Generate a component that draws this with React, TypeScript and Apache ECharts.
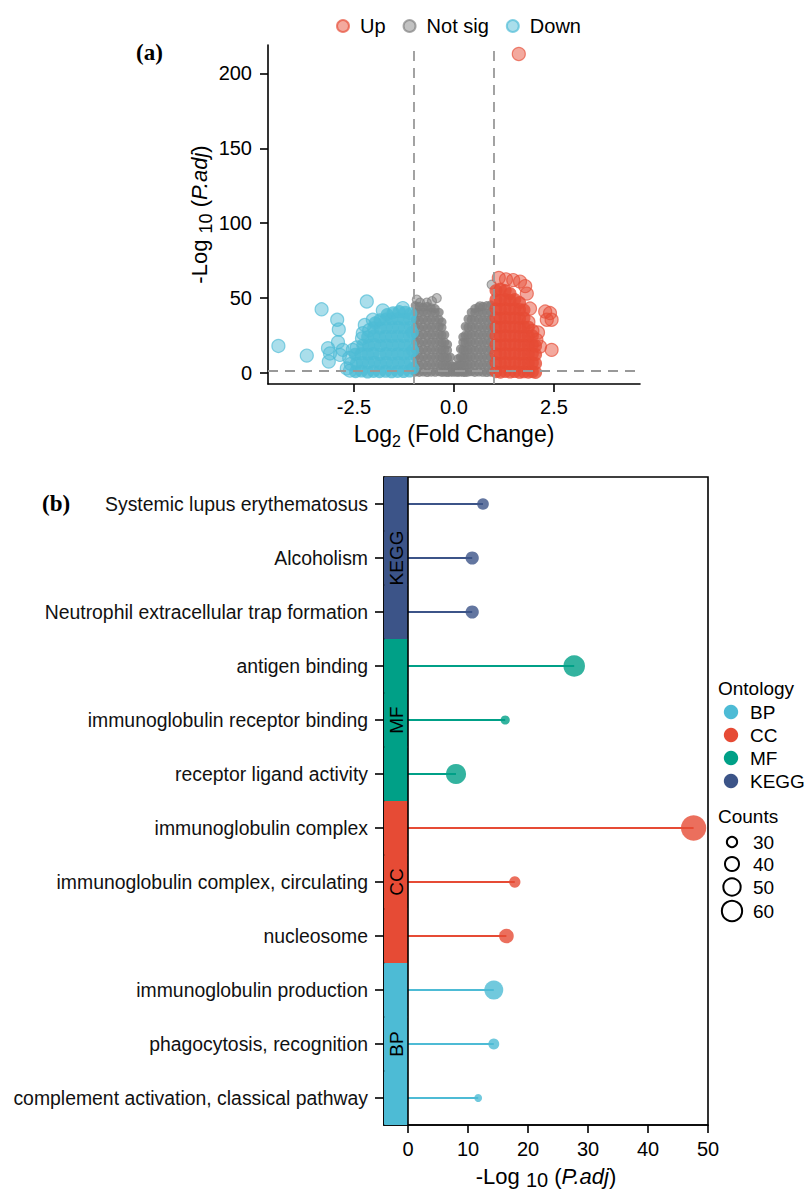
import React, { useEffect, useRef } from "react";
import * as echarts from "echarts";

const FONT = "'Liberation Sans', Arial, Helvetica, sans-serif";
const SERIF = "'Liberation Serif', 'Times New Roman', serif";

// ---------- Panel (a): volcano ----------
const volcanoGroups = ["Up", "Not sig", "Down"];
const xTicksA = [-2.5, 0, 2.5];
const yTicksA = [0, 50, 100, 150, 200];
const fcCutoffs = [-1, 1];
const padjCutoff = 1.3;

// sparse, individually visible points
const downSparse: [number, number][] = [
  [-4.39, 18], [-3.68, 11.6], [-3.31, 42.5], [-3.15, 16.5], [-3.13, 7.6], [-3.1, 13],
  [-2.92, 35.5], [-2.88, 29], [-2.9, 20.5], [-2.85, 12], [-2.78, 15.4], [-2.68, 3],
  [-2.53, 15.4], [-2.28, 26.5], [-2.23, 32], [-2.18, 47.7], [-2.03, 35.5], [-1.78, 41.7],
  [-1.28, 43.3], [-2.6, 1.5], [-2.58, 6], [-2.62, 10], [-2.43, 17], [-2.3, 23], [-2.12, 28.5],
];
// dense cloud
const downDense: [number, number][] = [
  [-2.46, 0.8], [-2.44, 6.5], [-2.47, 12.5],
  [-2.31, 1.2], [-2.29, 7], [-2.32, 12.8], [-2.28, 18.5],
  [-2.16, 0.6], [-2.14, 6.8], [-2.15, 12.6], [-2.13, 18.4], [-2.16, 24],
  [-2.01, 1], [-1.99, 7.2], [-2.02, 13], [-1.98, 19], [-2.0, 24.8], [-2.01, 30.2], [-1.97, 33.5],
  [-1.86, 0.8], [-1.84, 6.6], [-1.85, 12.4], [-1.83, 18.3], [-1.86, 24.2], [-1.84, 30], [-1.85, 35.5],
  [-1.71, 1.1], [-1.69, 7], [-1.7, 12.9], [-1.68, 18.7], [-1.71, 24.5], [-1.69, 30.4], [-1.7, 36], [-1.67, 39],
  [-1.56, 0.7], [-1.54, 6.7], [-1.55, 12.5], [-1.53, 18.5], [-1.56, 24.4], [-1.54, 30.3], [-1.55, 36.1], [-1.52, 40.2],
  [-1.41, 1], [-1.39, 6.9], [-1.4, 12.8], [-1.38, 18.6], [-1.41, 24.6], [-1.39, 30.5], [-1.4, 36.3], [-1.37, 41],
  [-1.26, 0.9], [-1.24, 6.8], [-1.25, 12.7], [-1.23, 18.5], [-1.26, 24.4], [-1.24, 30.2], [-1.25, 36], [-1.22, 40.6],
  [-1.11, 1.2], [-1.09, 7.1], [-1.1, 13], [-1.08, 18.8], [-1.11, 24.7], [-1.09, 30.5], [-1.1, 36], [-1.08, 39.5],
  [-1.03, 3], [-1.03, 15], [-1.04, 27],
];

const notSigSparse: [number, number][] = [
  [-0.93, 49], [-0.85, 47], [-0.68, 47], [-0.55, 48], [-0.43, 50], [0.94, 59], [0.65, 44.5],
];
const notSigDense: [number, number][] = [
  [-0.97, 0.5], [-0.97, 5.5], [-0.97, 10.5], [-0.97, 15.5], [-0.97, 20.5], [-0.97, 25.5], [-0.97, 30.5], [-0.97, 35.5], [-0.97, 40.5], [-0.97, 45],
  [-0.87, 0.3], [-0.87, 5.3], [-0.87, 10.3], [-0.87, 15.3], [-0.87, 20.3], [-0.87, 25.3], [-0.87, 30.3], [-0.87, 35.3], [-0.87, 40.3], [-0.87, 44.5],
  [-0.77, 0.6], [-0.77, 5.6], [-0.77, 10.6], [-0.77, 15.6], [-0.77, 20.6], [-0.77, 25.6], [-0.77, 30.6], [-0.77, 35.6], [-0.77, 40.6], [-0.77, 44],
  [-0.67, 0.2], [-0.67, 5.2], [-0.67, 10.2], [-0.67, 15.2], [-0.67, 20.2], [-0.67, 25.2], [-0.67, 30.2], [-0.67, 35.2], [-0.67, 40.2], [-0.67, 44.5],
  [-0.57, 0.5], [-0.57, 5.5], [-0.57, 10.5], [-0.57, 15.5], [-0.57, 20.5], [-0.57, 25.5], [-0.57, 30.5], [-0.57, 35.5], [-0.57, 40.5], [-0.57, 43.5],
  [-0.47, 0.4], [-0.47, 5.4], [-0.47, 10.4], [-0.47, 15.4], [-0.47, 20.4], [-0.47, 25.4], [-0.47, 30.4], [-0.47, 35.4], [-0.47, 40.4], [-0.47, 43],
  [-0.37, 0.7], [-0.37, 5.7], [-0.37, 10.7], [-0.37, 15.7], [-0.37, 20.7], [-0.37, 25.7], [-0.37, 30.7], [-0.37, 35.7], [-0.37, 40.5],
  [-0.3, 0.3], [-0.3, 5.3], [-0.3, 10.3], [-0.3, 15.3], [-0.3, 20.3], [-0.3, 25.3], [-0.3, 30.3], [-0.3, 34],
  [-0.23, 0.5], [-0.23, 5.5], [-0.23, 10.5], [-0.23, 15.5], [-0.23, 20.5], [-0.23, 25.5],
  [-0.16, 0.2], [-0.16, 5.2], [-0.16, 10.2], [-0.16, 15.2], [-0.16, 19],
  [-0.09, 0.6], [-0.09, 5.6], [-0.09, 10.6],
  [-0.03, 0.4], [-0.03, 4.5],
  [0.04, 0.5], [0.04, 4],
  [0.1, 0.3], [0.1, 5.3], [0.1, 9.5],
  [0.16, 0.6], [0.16, 5.6], [0.16, 10.6], [0.16, 16],
  [0.22, 0.4], [0.22, 5.4], [0.22, 10.4], [0.22, 15.4], [0.22, 20.4], [0.22, 24],
  [0.28, 0.2], [0.28, 5.2], [0.28, 10.2], [0.28, 15.2], [0.28, 20.2], [0.28, 25.2], [0.28, 31],
  [0.35, 0.5], [0.35, 5.5], [0.35, 10.5], [0.35, 15.5], [0.35, 20.5], [0.35, 25.5], [0.35, 30.5], [0.35, 36],
  [0.43, 0.7], [0.43, 5.7], [0.43, 10.7], [0.43, 15.7], [0.43, 20.7], [0.43, 25.7], [0.43, 30.7], [0.43, 35.7], [0.43, 40.5],
  [0.52, 0.3], [0.52, 5.3], [0.52, 10.3], [0.52, 15.3], [0.52, 20.3], [0.52, 25.3], [0.52, 30.3], [0.52, 35.3], [0.52, 40.3], [0.52, 43],
  [0.62, 0.6], [0.62, 5.6], [0.62, 10.6], [0.62, 15.6], [0.62, 20.6], [0.62, 25.6], [0.62, 30.6], [0.62, 35.6], [0.62, 40.6], [0.62, 44],
  [0.72, 0.4], [0.72, 5.4], [0.72, 10.4], [0.72, 15.4], [0.72, 20.4], [0.72, 25.4], [0.72, 30.4], [0.72, 35.4], [0.72, 40.4], [0.72, 44.5],
  [0.82, 0.2], [0.82, 5.2], [0.82, 10.2], [0.82, 15.2], [0.82, 20.2], [0.82, 25.2], [0.82, 30.2], [0.82, 35.2], [0.82, 40.2], [0.82, 45],
  [0.92, 0.5], [0.92, 5.5], [0.92, 10.5], [0.92, 15.5], [0.92, 20.5], [0.92, 25.5], [0.92, 30.5], [0.92, 35.5], [0.92, 40.5], [0.92, 45.5],
];

const upSparse: [number, number][] = [
  [1.62, 213], [1.12, 63.5], [1.3, 62.5], [1.48, 62], [1.65, 61], [1.78, 58], [1.82, 53],
  [1.9, 43], [2.28, 41], [2.4, 40], [2.44, 35.5], [2.32, 35.5], [2.44, 15.4], [2.1, 27], [2.15, 17.6],
  [2.06, 22], [1.96, 28], [1.86, 34],
];
const upDense: [number, number][] = [
  [1.05, 0.8], [1.05, 6.8], [1.05, 12.8], [1.05, 18.8], [1.05, 24.8], [1.05, 30.8], [1.05, 36.8], [1.05, 42.8], [1.05, 48.8], [1.05, 55],
  [1.16, 0.5], [1.16, 6.5], [1.16, 12.5], [1.16, 18.5], [1.16, 24.5], [1.16, 30.5], [1.16, 36.5], [1.16, 42.5], [1.16, 48.5], [1.16, 56],
  [1.28, 1], [1.28, 7], [1.28, 13], [1.28, 19], [1.28, 25], [1.28, 31], [1.28, 37], [1.28, 43], [1.28, 49], [1.28, 55],
  [1.4, 0.6], [1.4, 6.6], [1.4, 12.6], [1.4, 18.6], [1.4, 24.6], [1.4, 30.6], [1.4, 36.6], [1.4, 42.6], [1.4, 48.6], [1.4, 53],
  [1.52, 0.9], [1.52, 6.9], [1.52, 12.9], [1.52, 18.9], [1.52, 24.9], [1.52, 30.9], [1.52, 36.9], [1.52, 42.9], [1.52, 49],
  [1.64, 0.4], [1.64, 6.4], [1.64, 12.4], [1.64, 18.4], [1.64, 24.4], [1.64, 30.4], [1.64, 36.4], [1.64, 42.4], [1.64, 47],
  [1.75, 0.7], [1.75, 6.7], [1.75, 12.7], [1.75, 18.7], [1.75, 24.7], [1.75, 30.7], [1.75, 36.7], [1.75, 42],
  [1.86, 0.5], [1.86, 6.5], [1.86, 12.5], [1.86, 18.5], [1.86, 24.5], [1.86, 30.5],
  [1.96, 0.8], [1.96, 6.8], [1.96, 12.8], [1.96, 18.8], [1.96, 24.8],
  [2.04, 0.3], [2.04, 6.3], [2.04, 12.3], [2.04, 18],
];

// ---------- Panel (b): enrichment lollipop ----------
const terms = [
  "Systemic lupus erythematosus",
  "Alcoholism",
  "Neutrophil extracellular trap formation",
  "antigen binding",
  "immunoglobulin receptor binding",
  "receptor ligand activity",
  "immunoglobulin complex",
  "immunoglobulin complex, circulating",
  "nucleosome",
  "immunoglobulin production",
  "phagocytosis, recognition",
  "complement activation, classical pathway",
];
const termOntology = ["KEGG", "KEGG", "KEGG", "MF", "MF", "MF", "CC", "CC", "CC", "BP", "BP", "BP"];
const negLogPadj = [12.5, 10.7, 10.7, 27.7, 16.2, 8.0, 47.6, 17.8, 16.4, 14.3, 14.3, 11.7];
const counts = [31, 35, 35, 61, 25, 56, 75, 30, 39, 52, 29, 22];
const ontologyLevels = ["BP", "CC", "MF", "KEGG"];
const countLegend = [30, 40, 50, 60];
const xTicksB = [0, 10, 20, 30, 40, 50];

const ONT_COLORS: Record<string, string> = {
  BP: "#4DBBD5",
  CC: "#E64B35",
  MF: "#00A087",
  KEGG: "#3C5488",
};

const countSize = (c: number) => 11.3 + 4.41 * (Math.sqrt(c) - Math.sqrt(30));

function buildOption(): any {
  const axisLine = { show: true, onZero: false, lineStyle: { color: "#000", width: 1.6 } };
  const axisTick = (vals: number[]) => ({
    show: true,
    length: 8,
    lineStyle: { color: "#000", width: 1.6 },
    customValues: vals,
  });
  const labelBase = { color: "#000", fontFamily: FONT, fontSize: 20 };

  const midIndex: Record<string, number> = {};
  ontologyLevels.forEach((o) => {
    const idx = termOntology.map((t, i) => (t === o ? i : -1)).filter((i) => i >= 0);
    midIndex[o] = idx[Math.floor(idx.length / 2)];
  });

  const graphic: any[] = [
    { type: "text", left: 136, top: 41, style: { text: "(a)", font: `bold 23px ${SERIF}`, fill: "#000" } },
    { type: "text", left: 42, top: 492, style: { text: "(b)", font: `bold 23px ${SERIF}`, fill: "#000" } },
    { type: "text", x: 718, y: 688, style: { text: "Ontology", font: `19px ${FONT}`, fill: "#000", verticalAlign: "middle" } },
    { type: "text", x: 718, y: 816, style: { text: "Counts", font: `19px ${FONT}`, fill: "#000", verticalAlign: "middle" } },
  ];
  const ontY = [712, 735, 758, 781];
  ontologyLevels.forEach((o, i) => {
    graphic.push({ type: "circle", shape: { cx: 731, cy: ontY[i], r: 7.2 }, style: { fill: ONT_COLORS[o] } });
    graphic.push({ type: "text", x: 750, y: ontY[i], style: { text: o, font: `19px ${FONT}`, fill: "#000", verticalAlign: "middle" } });
  });
  const cntY = [842, 864, 887, 911];
  countLegend.forEach((c, i) => {
    graphic.push({
      type: "circle",
      shape: { cx: 732, cy: cntY[i], r: countSize(c) / 2 - 0.5 },
      style: { fill: "none", stroke: "#000", lineWidth: 2 },
    });
    graphic.push({ type: "text", x: 753, y: cntY[i], style: { text: String(c), font: `19px ${FONT}`, fill: "#000", verticalAlign: "middle" } });
  });

  const sparse = (rgb: string, size: number, name: string, data: [number, number][]) => ({
    type: "scatter",
    name,
    xAxisIndex: 0,
    yAxisIndex: 0,
    data,
    symbolSize: size,
    silent: true,
    itemStyle: { color: `rgba(${rgb},0.6)`, borderColor: `rgba(${rgb},0.85)`, borderWidth: 1.2 },
  });
  const dense = (rgb: string, size: number, name: string, data: [number, number][]) => ({
    type: "scatter",
    name,
    xAxisIndex: 0,
    yAxisIndex: 0,
    data,
    symbolSize: size,
    silent: true,
    itemStyle: { color: `rgb(${rgb})`, borderWidth: 0 },
  });

  const titleRich = (mainSize: number, subSize: number, lineH: number, subLine: number) => ({
    fontSize: mainSize,
    fontFamily: FONT,
    color: "#000",
    lineHeight: lineH,
    rich: {
      sub: { fontSize: subSize, fontFamily: FONT, color: "#000", lineHeight: subLine, verticalAlign: "bottom" },
      it: { fontSize: mainSize, fontFamily: FONT, color: "#000", fontStyle: "italic", lineHeight: lineH },
    },
  });

  return {
    animation: false,
    backgroundColor: "#fff",
    textStyle: { fontFamily: FONT },
    legend: {
      data: volcanoGroups,
      left: 331,
      top: 11,
      icon: "circle",
      itemWidth: 12,
      itemHeight: 12,
      itemGap: 17,
      selectedMode: false,
      textStyle: { fontSize: 20, fontFamily: FONT, color: "#000", padding: [0, 0, 0, 6] },
    },
    graphic,
    grid: [
      { left: 268, top: 45, width: 372, height: 339, outerBoundsMode: "none", containLabel: false },
      {
        left: 384, top: 477, width: 324, height: 648,
        outerBoundsMode: "none", containLabel: false,
        show: true, borderColor: "#000", borderWidth: 1.6, backgroundColor: "rgba(0,0,0,0)",
      },
    ],
    xAxis: [
      {
        gridIndex: 0,
        type: "value",
        min: -4.65,
        max: 4.65,
        axisLine,
        axisTick: axisTick(xTicksA),
        splitLine: { show: false },
        axisLabel: { ...labelBase, margin: 13, customValues: xTicksA, formatter: (v: number) => v.toFixed(1) },
        name: "Log{sub|2} (Fold Change)",
        nameLocation: "middle",
        nameGap: 35,
        nameTextStyle: titleRich(23, 16, 30, 16),
      },
      {
        gridIndex: 1,
        type: "value",
        min: -4,
        max: 50,
        axisLine,
        axisTick: axisTick(xTicksB),
        splitLine: { show: false },
        axisLabel: { ...labelBase, margin: 14, customValues: xTicksB },
        name: "-Log {sub|10} ({it|P.adj})",
        nameLocation: "middle",
        nameGap: 35,
        nameTextStyle: titleRich(22, 20, 26, 20),
      },
    ],
    yAxis: [
      {
        gridIndex: 0,
        type: "value",
        min: -7.4,
        max: 219,
        axisLine,
        axisTick: axisTick(yTicksA),
        splitLine: { show: false },
        axisLabel: { ...labelBase, margin: 16, customValues: yTicksA },
        name: "-Log {sub|10} ({it|P.adj})",
        nameLocation: "middle",
        nameRotate: 90,
        nameGap: 48,
        nameTextStyle: titleRich(22, 18, 30, 18),
      },
      {
        gridIndex: 1,
        type: "category",
        data: terms,
        inverse: true,
        axisLine,
        axisTick: { show: true, alignWithLabel: true, length: 9, lineStyle: { color: "#000", width: 1.6 } },
        axisLabel: { color: "#111", fontFamily: FONT, fontSize: 19.4, margin: 16 },
        splitLine: { show: false },
      },
      {
        gridIndex: 1,
        type: "category",
        data: terms,
        inverse: true,
        show: false,
      },
    ],
    series: [
      sparse("128,128,128", 9, "Not sig", notSigSparse),
      dense("128,128,128", 9, "Not sig", notSigDense),
      sparse("77,187,213", 13, "Down", downSparse),
      dense("77,187,213", 13, "Down", downDense),
      sparse("230,75,53", 13, "Up", upSparse),
      dense("230,75,53", 13, "Up", upDense),
      {
        type: "scatter",
        name: "cutoffs",
        xAxisIndex: 0,
        yAxisIndex: 0,
        data: [],
        z: 10,
        silent: true,
        markLine: {
          silent: true,
          symbol: "none",
          label: { show: false },
          lineStyle: { color: "#999", type: [10, 7], width: 1.8 },
          data: [...fcCutoffs.map((v) => ({ xAxis: v })), { yAxis: padjCutoff }],
        },
      },
      {
        type: "bar",
        name: "strip",
        xAxisIndex: 1,
        yAxisIndex: 2,
        barWidth: "100%",
        barCategoryGap: "0%",
        silent: true,
        data: terms.map((t, i) => ({
          value: -4,
          itemStyle: { color: ONT_COLORS[termOntology[i]], borderColor: ONT_COLORS[termOntology[i]], borderWidth: 1 },
          label: {
            show: midIndex[termOntology[i]] === i,
            position: "inside",
            rotate: 90,
            formatter: termOntology[i],
            color: "#000",
            fontFamily: FONT,
            fontSize: 19,
          },
        })),
      },
      {
        type: "bar",
        name: "stem",
        xAxisIndex: 1,
        yAxisIndex: 1,
        barWidth: 2,
        z: 3,
        silent: true,
        data: negLogPadj.map((v, i) => ({ value: v, itemStyle: { color: ONT_COLORS[termOntology[i]] } })),
        markLine: {
          silent: true,
          symbol: "none",
          label: { show: false },
          lineStyle: { color: "#000", type: "solid", width: 1.6 },
          data: [{ xAxis: 0 }],
        },
      },
      {
        type: "scatter",
        name: "dots",
        xAxisIndex: 1,
        yAxisIndex: 1,
        z: 4,
        silent: true,
        data: negLogPadj.map((v, i) => ({
          value: [v, i],
          symbolSize: countSize(counts[i]),
          itemStyle: { color: ONT_COLORS[termOntology[i]] },
        })),
      },
    ],
  };
}

export default function App() {
  const ref = useRef<HTMLDivElement>(null);
  useEffect(() => {
    document.body.style.margin = "0";
    const chart = echarts.init(ref.current!, null, { renderer: "svg" });
    chart.setOption(buildOption());
    return () => chart.dispose();
  }, []);
  return <div ref={ref} style={{ width: 807, height: 1191 }} />;
}
